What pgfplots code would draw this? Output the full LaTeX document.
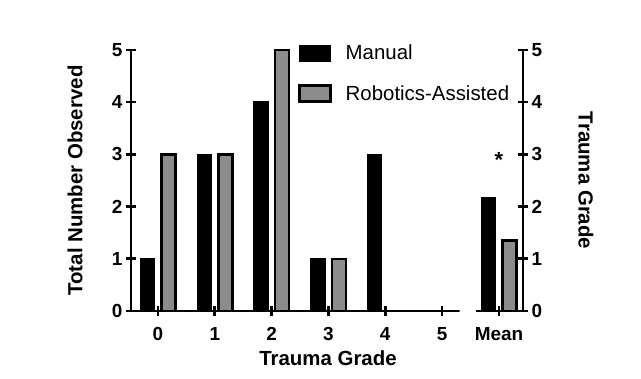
\documentclass[border=0pt]{standalone}
\usepackage{pgfplots}
\pgfplotsset{compat=1.18}
\usepackage{fontspec}
\setmainfont{Liberation Sans}
\definecolor{robgray}{RGB}{140,140,140}
\begin{document}
\begin{tikzpicture}
\useasboundingbox (0bp,0bp) rectangle (641bp,379bp);
\pgfplotsset{
  common/.style={
    scale only axis,
    ybar,
    bar width=14bp,
    ymin=0, ymax=5,
    ytick={0,1,2,3,4,5},
    major tick style={line width=2.6bp, black},
    major tick length=10bp,
    tick align=outside,
    tick label style={font=\fontsize{19}{21}\selectfont\bfseries},
    xticklabel style={yshift=-8bp},
    /pgf/number format/assume math mode=true,
    clip=false,
  },
  lines/.style={
    axis line style={line width=2.6bp, black},
    x axis line style={-},
    y axis line style={-},
    every outer x axis line/.append style={-},
    every outer y axis line/.append style={-},
  },
  manual/.style={fill=black, draw=black, line width=1.5bp, bar shift=-10.5bp},
  robot/.style={fill=robgray, draw=black, line width=2.5bp, bar shift=10.5bp},
}
\begin{axis}[
  common,
  at={(131bp,68bp)}, anchor=south west,
  width=319bp, height=261bp,
  xmin=-0.475, xmax=5.14,
  axis x line=bottom, axis y line=left,
  lines,
  xtick={0,1,2,3,4,5},
  ylabel={Total Number Observed},
  xlabel={Trauma Grade},
  every axis y label/.style={at={(rel axis cs:-0.1755,0.5)}, rotate=90, anchor=center, font=\fontsize{20.5}{24}\selectfont\bfseries},
  every axis x label/.style={at={(rel axis cs:0.6176,-0.18)}, anchor=center, font=\fontsize{20.5}{24}\selectfont\bfseries},
  legend style={at={(rel axis cs:0.5235,1.027)}, anchor=north west, draw=none, fill=none, inner sep=0pt,
    font=\fontsize{20.5}{24}\selectfont, row sep=20bp, cells={anchor=west},
    /tikz/every odd column/.append style={column sep=12bp}},
  legend image code/.code={\draw[#1] (0bp,-8bp) rectangle (31bp,8bp);},
]
\addplot[manual] coordinates {(0,1) (1,3) (2,4) (3,1) (4,3) (5,0)};
\addlegendentry{Manual}
\addplot[robot] coordinates {(0,3) (1,3) (2,5) (3,1) (4,0) (5,0)};
\addlegendentry{Robotics-Assisted}
\end{axis}
\begin{axis}[
  common,
  at={(476bp,68bp)}, anchor=south west,
  width=47bp, height=261bp,
  xmin=-0.405, xmax=0.423,
  axis x line=bottom, axis y line=right,
  lines,
  xtick={0}, xticklabels={Mean},
  ylabel={Trauma Grade},
  every axis y label/.style={at={(rel axis cs:2.34,0.5)}, rotate=-90, anchor=center, font=\fontsize{20.5}{24}\selectfont\bfseries},
]
\addplot[manual] coordinates {(0,2.17)};
\addplot[robot] coordinates {(0,1.35)};
\node[font=\fontsize{22}{24}\selectfont\bfseries] at (axis cs:0,2.9) {*};
\end{axis}
\end{tikzpicture}
\end{document}
